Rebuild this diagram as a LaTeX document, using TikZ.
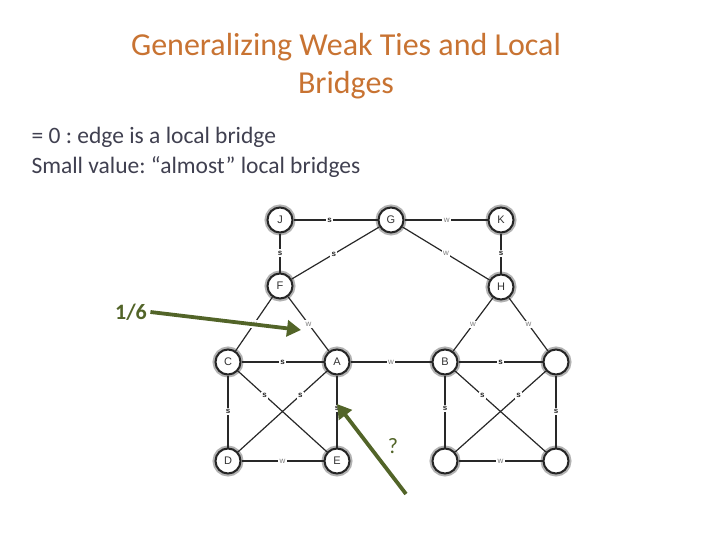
\documentclass[tikz,border=0pt]{standalone}
\usepackage{fontspec}
\setmainfont{Carlito}
\setsansfont{Liberation Sans}
\usetikzlibrary{arrows.meta}
\definecolor{titlecol}{RGB}{200,115,50}
\definecolor{bodycol}{RGB}{64,64,80}
\definecolor{olive}{RGB}{82,100,40}
\definecolor{edgecol}{RGB}{40,40,40}
\frenchspacing
\begin{document}
\begin{tikzpicture}[x=1pt,y=-1pt,
  vtx/.style={circle,draw=black!85,line width=2pt,fill=white,minimum size=25pt,inner sep=0pt,
    font=\sffamily\fontsize{11}{11}\selectfont,text=black!80,
    preaction={draw=black!30,line width=6pt}},
  edge/.style={draw=edgecol,line width=1.2pt},
  slab/.style={fill=white,inner sep=1.5pt,font=\sffamily\bfseries\fontsize{8}{8}\selectfont,text=black!85},
  wlab/.style={fill=white,inner sep=1.5pt,font=\sffamily\fontsize{8}{8}\selectfont,text=black!50},
  garrow/.style={draw=olive,line width=3.8pt,-{Triangle[length=14pt,width=16pt]}}]
\useasboundingbox (0,0) rectangle (720,540);
% title and text
\node[text=titlecol,font=\fontsize{32}{38}\selectfont,align=center] (title) at (346,66)
  {Generalizing Weak Ties and Local\\Bridges};
\node[text=bodycol,font=\fontsize{23.5}{30}\selectfont,align=left,anchor=west] (body) at (28,152)
  {= 0 : edge is a local bridge\\Small value: “almost” local bridges};
% nodes
\node[vtx] (J) at (280,220) {J};
\node[vtx] (G) at (391,220) {G};
\node[vtx] (K) at (501,220) {K};
\node[vtx] (F) at (280,286) {F};
\node[vtx] (H) at (501,287) {H};
\node[vtx] (C) at (228,362) {C};
\node[vtx] (A) at (337,362) {A};
\node[vtx] (B) at (445,362) {B};
\node[vtx] (R) at (556,362) {};
\node[vtx] (D) at (228,461) {D};
\node[vtx] (E) at (337,461) {E};
\node[vtx] (X) at (445,461) {};
\node[vtx] (Y) at (556,461) {};
% edges
\path[edge] (J) -- node[slab,pos=0.43]{s} (G);
\path[edge] (G) -- node[wlab,pos=0.51]{w} (K);
\path[edge] (J) -- node[slab]{s} (F);
\path[edge] (G) -- node[slab,pos=0.52]{s} (F);
\path[edge] (G) -- node[wlab]{w} (H);
\path[edge] (K) -- node[slab]{s} (H);
\path[edge] (F) -- node[wlab]{w} (C);
\path[edge] (F) -- node[wlab]{w} (A);
\path[edge] (H) -- node[wlab]{w} (B);
\path[edge] (H) -- node[wlab]{w} (R);
\path[edge] (C) -- node[slab]{s} (A);
\path[edge] (A) -- node[wlab]{w} (B);
\path[edge] (B) -- node[slab]{s} (R);
\path[edge] (C) -- node[slab]{s} (D);
\path[edge] (C) -- node[slab,pos=0.3]{s} (E);
\path[edge] (A) -- node[slab,pos=0.3]{s} (D);
\path[edge] (A) -- node[slab,pos=0.46]{s} (E);
\path[edge] (D) -- node[wlab]{w} (E);
\path[edge] (B) -- node[slab,pos=0.46]{s} (X);
\path[edge] (B) -- node[slab,pos=0.3]{s} (Y);
\path[edge] (R) -- node[slab,pos=0.3]{s} (X);
\path[edge] (R) -- node[slab]{s} (Y);
\path[edge] (X) -- node[wlab]{w} (Y);
% annotations
\node[text=olive,font=\bfseries\fontsize{22}{22}\selectfont] (q1) at (131,312) {1/6};
\coordinate (t1) at (301,330);
\draw[garrow] (q1.east) -- (t1);
\coordinate (s2) at (406,494);
\coordinate (t2) at (337,404);
\draw[garrow] (s2) -- (t2);
\node[text=olive,font=\fontsize{22}{22}\selectfont] (q2) at (393,446) {?};
\end{tikzpicture}
\end{document}
